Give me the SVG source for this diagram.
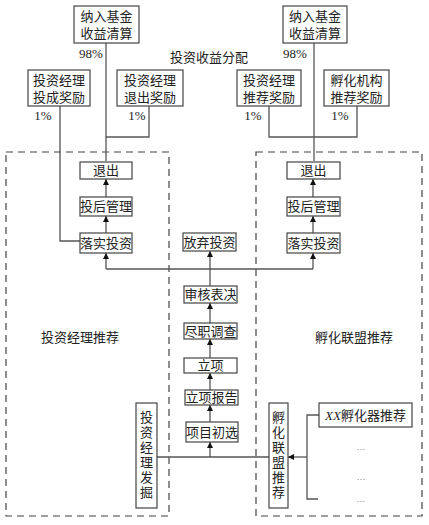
<svg xmlns="http://www.w3.org/2000/svg" width="429" height="525" viewBox="0 0 429 525">
<defs>
<style>
text{font-family:"Liberation Serif","Noto Sans CJK SC",serif;font-size:13px;fill:#222;text-anchor:middle}
.b{fill:#fff;stroke:#444;stroke-width:1.2}
.d{fill:none;stroke:#444;stroke-width:1.2;stroke-dasharray:7 5}
.c path{fill:none;stroke:#555;stroke-width:1.3}
.a{marker-end:url(#ah)}
.dt{font-size:9px;fill:#555}
</style>
<marker id="ah" viewBox="0 0 10 10" refX="10" refY="5" markerWidth="6" markerHeight="6" markerUnits="userSpaceOnUse" orient="auto"><path d="M0,0L10,5L0,10z" fill="#111"/></marker>
</defs>
<rect width="429" height="525" fill="#fff"/>
<g id="regions">
<rect class="d" x="6" y="152" width="163" height="364"/>
<rect class="d" x="256" y="152" width="166" height="364"/>
<text x="80" y="342">投资经理推荐</text>
<text x="354" y="342">孵化联盟推荐</text>
<text x="209" y="62">投资收益分配</text>
</g>
<g class="c" id="connectors">
<path d="M106,43V161"/>
<path d="M60,106V241H80"/>
<path d="M149,106V137H106"/>
<path d="M314,43V161"/>
<path d="M269,106V137H357V106"/>
<path class="a" d="M106,197V179"/>
<path class="a" d="M106,233V216"/>
<path class="a" d="M313,197V179"/>
<path class="a" d="M313,233V216"/>
<path d="M106,269H313"/>
<path class="a" d="M106,269V253"/>
<path class="a" d="M313,269V253"/>
<path class="a" d="M210,286V251"/>
<path class="a" d="M210,323V303"/>
<path class="a" d="M210,358V339"/>
<path class="a" d="M210,390V373"/>
<path class="a" d="M210,422V405"/>
<path class="a" d="M210,457V442"/>
<path d="M157,457H269"/>
<path d="M319,415H307V499H318"/>
<path class="a" d="M307,457H288"/>
</g>
<g id="pct">
<text x="91" y="58">98%</text>
<text x="295" y="58">98%</text>
<text x="43" y="120">1%</text>
<text x="137" y="120">1%</text>
<text x="253" y="120">1%</text>
<text x="340" y="120">1%</text>
</g>
<g id="n_jsl"><rect class="b" x="74" y="6" width="65" height="37"/><text x="106.5" y="21">纳入基金</text><text x="106.5" y="38">收益清算</text></g>
<g id="n_jsr"><rect class="b" x="283" y="6" width="64" height="37"/><text x="315" y="21">纳入基金</text><text x="315" y="38">收益清算</text></g>
<g id="n_tc"><rect class="b" x="28" y="70" width="62" height="36"/><text x="59" y="85">投资经理</text><text x="59" y="102">投成奖励</text></g>
<g id="n_tcj"><rect class="b" x="117" y="70" width="66" height="36"/><text x="150" y="85">投资经理</text><text x="150" y="102">退出奖励</text></g>
<g id="n_tj"><rect class="b" x="237" y="70" width="64" height="36"/><text x="269" y="85">投资经理</text><text x="269" y="102">推荐奖励</text></g>
<g id="n_fh"><rect class="b" x="324" y="70" width="65" height="36"/><text x="356.5" y="85">孵化机构</text><text x="356.5" y="102">推荐奖励</text></g>
<g id="n_tc_l"><rect class="b" x="80" y="162" width="52" height="17"/><text x="106" y="175">退出</text></g>
<g id="n_gl_l"><rect class="b" x="80" y="197" width="52" height="19"/><text x="106" y="211">投后管理</text></g>
<g id="n_ls_l"><rect class="b" x="80" y="233" width="52" height="20"/><text x="106" y="248">落实投资</text></g>
<g id="n_tc_r"><rect class="b" x="287" y="162" width="53" height="17"/><text x="313.5" y="175">退出</text></g>
<g id="n_gl_r"><rect class="b" x="287" y="197" width="53" height="19"/><text x="313.5" y="211">投后管理</text></g>
<g id="n_ls_r"><rect class="b" x="287" y="233" width="53" height="20"/><text x="313.5" y="248">落实投资</text></g>
<g id="n_fq"><rect class="b" x="183" y="233" width="53" height="18"/><text x="209.5" y="247">放弃投资</text></g>
<g id="n_sh"><rect class="b" x="184" y="286" width="53" height="17"/><text x="210.5" y="299">审核表决</text></g>
<g id="n_jz"><rect class="b" x="184" y="323" width="53" height="16"/><text x="210.5" y="336">尽职调查</text></g>
<g id="n_lx"><rect class="b" x="184" y="358" width="53" height="15"/><text x="210.5" y="370">立项</text></g>
<g id="n_bg"><rect class="b" x="185" y="390" width="53" height="15"/><text x="211.5" y="402">立项报告</text></g>
<g id="n_cx"><rect class="b" x="186" y="422" width="52" height="20"/><text x="212" y="437">项目初选</text></g>
<g id="n_fj"><rect class="b" x="136" y="403" width="21" height="105"/>
<text x="146.5" y="422">投</text><text x="146.5" y="437">资</text><text x="146.5" y="452">经</text><text x="146.5" y="467">理</text><text x="146.5" y="482">发</text><text x="146.5" y="497">掘</text></g>
<g id="n_lm"><rect class="b" x="269" y="403" width="19" height="105"/>
<text x="278.5" y="422">孵</text><text x="278.5" y="437">化</text><text x="278.5" y="452">联</text><text x="278.5" y="467">盟</text><text x="278.5" y="482">推</text><text x="278.5" y="497">荐</text></g>
<g id="n_xx"><rect class="b" x="319" y="403" width="93" height="24"/><text x="365.5" y="420"><tspan font-style="italic">XX</tspan>孵化器推荐</text></g>
<g id="dots">
<text class="dt" x="361" y="450">…</text>
<text class="dt" x="361" y="480">…</text>
<text class="dt" x="361" y="502">…</text>
</g>
</svg>
